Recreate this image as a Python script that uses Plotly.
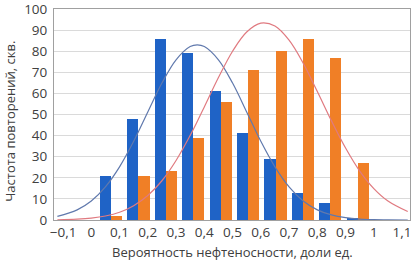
import plotly.graph_objects as go

# Histogram bins (pair centres)
bin_x = [0.07, 0.167, 0.264, 0.361, 0.458, 0.555, 0.652, 0.749, 0.846, 0.943]
blue_counts = [21, 48, 86, 79, 61, 41, 29, 13, 8, 1]
orange_counts = [2, 21, 23, 39, 56, 71, 80, 86, 77, 27]

# Fitted curves, points
curve_x = [-0.12, -0.05, 0, 0.05, 0.1, 0.15, 0.2, 0.25, 0.3, 0.35, 0.375, 0.4, 0.45, 0.5,
           0.55, 0.6, 0.65, 0.7, 0.75, 0.8, 0.85, 0.9, 0.95, 1.0, 1.05, 1.12]
blue_curve = [1.7, 4.8, 9.0, 15.7, 25.2, 37.3, 51.2, 64.9, 75.9, 82.2, 83.0, 82.2, 75.9, 64.9,
              51.2, 37.3, 25.2, 15.7, 9.0, 4.8, 2.4, 1.1, 0.45, 0.2, 0.1, 0.0]
red_curve = [0.1, 0.4, 0.9, 1.9, 3.7, 6.8, 11.6, 18.6, 28.2, 40.1, 46.7, 53.6, 67.5, 80.0,
             89.1, 93.3, 91.9, 85.2, 74.3, 60.9, 47.0, 34.1, 23.2, 14.9, 9.0, 4.0]

x_tickvals = [-0.1, 0, 0.1, 0.2, 0.3, 0.4, 0.5, 0.6, 0.7, 0.8, 0.9, 1.0, 1.1]
x_ticktext = ["−0,1", "0", "0,1", "0,2", "0,3", "0,4", "0,5", "0,6", "0,7", "0,8", "0,9", "1", "1,1"]
y_tickvals = [0, 10, 20, 30, 40, 50, 60, 70, 80, 90, 100]

x_title = "Вероятность нефтеносности, доли ед."
y_title = "Частота повторений, скв."

BAR_W = 0.0395
BLUE = "#1f63c6"
ORANGE = "#f07f26"
TXT = "#404040"

fig = go.Figure()
fig.add_trace(go.Bar(x=bin_x, y=blue_counts, width=BAR_W, offset=-BAR_W,
                     marker=dict(color=BLUE, line=dict(width=0)), showlegend=False))
fig.add_trace(go.Bar(x=bin_x, y=orange_counts, width=BAR_W, offset=0,
                     marker=dict(color=ORANGE, line=dict(width=0)), showlegend=False))
fig.add_trace(go.Scatter(x=curve_x, y=blue_curve, mode="lines",
                         line=dict(color="#6079ad", width=1.2, shape="spline"),
                         showlegend=False))
fig.add_trace(go.Scatter(x=curve_x, y=red_curve, mode="lines",
                         line=dict(color="#e07a80", width=1.2, shape="spline"),
                         showlegend=False))

font_family = "Open Sans, Liberation Sans, sans-serif"
fig.update_layout(
    width=412, height=260,
    margin=dict(l=54, r=2, t=9, b=40, autoexpand=False),
    paper_bgcolor="white", plot_bgcolor="white",
    font=dict(family=font_family, size=13, color=TXT),
    barmode="overlay",
    bargap=0,
    annotations=[
        dict(text=x_title, xref="paper", yref="paper", x=0.5, y=-0.152,
             xanchor="center", yanchor="middle", showarrow=False,
             font=dict(size=13, color=TXT)),
        dict(text=y_title, xref="paper", yref="paper", x=-0.124, y=0.47,
             xanchor="center", yanchor="middle", showarrow=False, textangle=-90,
             font=dict(size=13, color=TXT)),
    ],
)
fig.update_xaxes(
    range=[-0.132, 1.128],
    tickvals=x_tickvals, ticktext=x_ticktext,
    tickfont=dict(size=13.5, color=TXT),
    showgrid=False, zeroline=False,
    showline=True, linecolor="#a0a0a0", linewidth=1, mirror=True,
    ticks="", automargin=False, ticklabeloverflow="allow",
)
fig.update_yaxes(
    range=[0, 100],
    tickvals=y_tickvals,
    tickfont=dict(size=13.5, color=TXT),
    showgrid=True, gridcolor="#dadada", gridwidth=1,
    zeroline=False,
    showline=True, linecolor="#a0a0a0", linewidth=1, mirror=True,
    ticks="", ticklabelstandoff=3, automargin=False, ticklabeloverflow="allow",
)

fig.write_html("out.html",
               config={"displayModeBar": False},
               post_script="document.body.style.margin='0';document.body.style.padding='0';")
